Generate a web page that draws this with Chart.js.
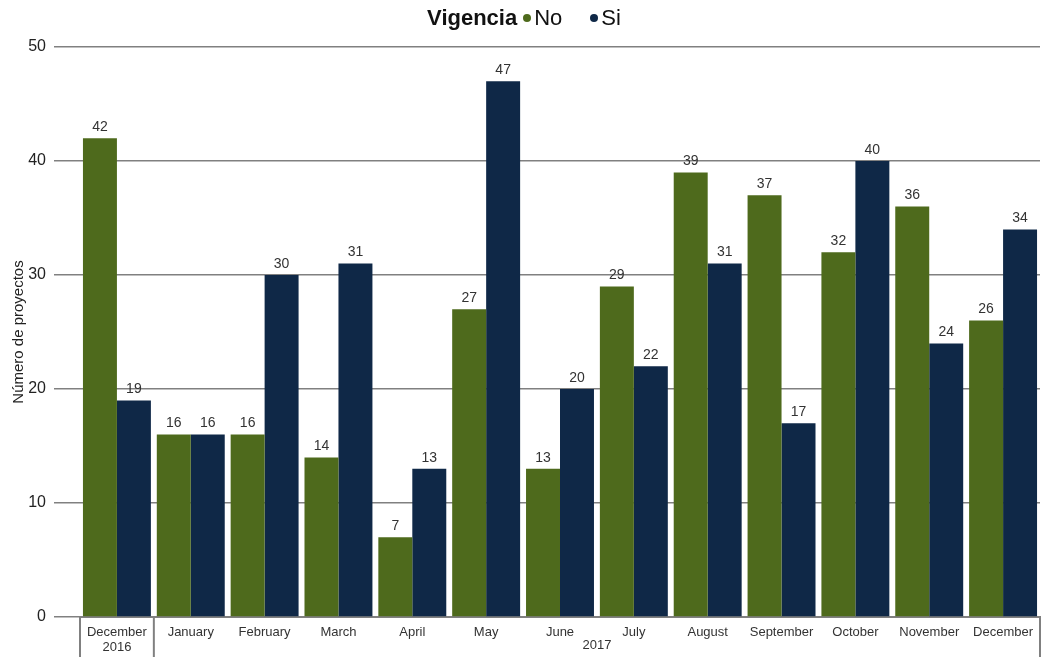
<!DOCTYPE html>
<html>
<head>
<meta charset="utf-8">
<script src="https://cdn.jsdelivr.net/npm/chart.js@4.4.1/dist/chart.umd.min.js"></script>
<style>
  html, body { margin: 0; padding: 0; background: #fff; }
  #wrap { position: relative; width: 1042px; height: 657px; }
  #legend {
    position: absolute; top: 4px; left: 0; width: 1042px; text-align: center;
    font-family: "Liberation Sans", Arial, sans-serif; font-size: 22px; color: #111;
    line-height: 28px; padding-left: 6px; box-sizing: border-box;
  }
  #legend b { margin-right: 6px; }
  #legend .dot { display: inline-block; width: 8px; height: 8px; border-radius: 50%; margin-right: 3px; vertical-align: 3px; }
  #legend .item { margin-right: 28px; }
  #legend .item:last-child { margin-right: 0; }
</style>
</head>
<body>
<div id="wrap">
  <div id="legend"></div>
  <canvas id="myChart" width="1042" height="657"></canvas>
</div>
<script>
const months = ['December', 'January', 'February', 'March', 'April', 'May', 'June',
  'July', 'August', 'September', 'October', 'November', 'December'];
const years = ['2016', '2017'];
const yearSpans = [1, 12]; // how many months fall in each year
const seriesNames = ['No', 'Si'];
const seriesColors = ['#4e6a1c', '#0f2847'];
const noValues = [42, 16, 16, 14, 7, 27, 13, 29, 39, 37, 32, 36, 26];
const siValues = [19, 16, 30, 31, 13, 47, 20, 22, 31, 17, 40, 24, 34];

// legend as html so the title can sit inline with the items
const legend = document.getElementById('legend');
legend.innerHTML = '<b>Vigencia</b>' + seriesNames.map((n, i) =>
  '<span class="item"><span class="dot" style="background:' + seriesColors[i] + '"></span>' + n + '</span>').join('');

// first year gets its label under the month, the rest are drawn centred under their group
const labels = months.map((m, i) => (i === 0 ? [m, years[0]] : m));

const font = '"Liberation Sans", Arial, sans-serif';

const valueLabels = {
  id: 'valueLabels',
  afterDatasetsDraw(chart) {
    const ctx = chart.ctx;
    ctx.save();
    ctx.font = '14px ' + font;
    ctx.fillStyle = '#333';
    ctx.textAlign = 'center';
    ctx.textBaseline = 'bottom';
    chart.data.datasets.forEach((ds, di) => {
      chart.getDatasetMeta(di).data.forEach((bar, i) => {
        ctx.fillText(ds.data[i], bar.x, bar.y - 4);
      });
    });
    ctx.restore();
  }
};

const yearGroups = {
  id: 'yearGroups',
  afterDraw(chart) {
    const ctx = chart.ctx;
    const x = chart.scales.x;
    const top = chart.chartArea.bottom;
    const half = (x.getPixelForValue(1) - x.getPixelForValue(0)) / 2;
    ctx.save();
    ctx.strokeStyle = '#808080';
    ctx.lineWidth = 2;
    let start = 0;
    const edges = [x.getPixelForValue(0) - half];
    yearSpans.forEach(n => {
      start += n;
      edges.push(x.getPixelForValue(start - 1) + half);
    });
    edges.forEach(px => {
      ctx.beginPath();
      ctx.moveTo(px, top);
      ctx.lineTo(px, chart.height);
      ctx.stroke();
    });
    ctx.font = '13px ' + font;
    ctx.fillStyle = '#333';
    ctx.textAlign = 'center';
    ctx.textBaseline = 'middle';
    for (let i = 1; i < years.length; i++) {
      ctx.fillText(years[i], (edges[i] + edges[i + 1]) / 2, top + 28);
    }
    ctx.restore();
  }
};

new Chart(document.getElementById('myChart').getContext('2d'), {
  type: 'bar',
  data: {
    labels: labels,
    datasets: [
      { label: seriesNames[0], data: noValues, backgroundColor: seriesColors[0] },
      { label: seriesNames[1], data: siValues, backgroundColor: seriesColors[1] }
    ]
  },
  options: {
    responsive: false,
    animation: false,
    layout: { padding: { top: 47, right: 2, left: 0, bottom: 0 } },
    datasets: { bar: { categoryPercentage: 0.92, barPercentage: 1 } },
    plugins: {
      legend: { display: false },
      tooltip: { enabled: false }
    },
    scales: {
      x: {
        grid: { display: false },
        border: { display: true, color: '#808080', width: 2 },
        ticks: { color: '#333', font: { family: font, size: 13, lineHeight: 1.15 }, padding: 0, maxRotation: 0, autoSkip: false },
        afterFit(scale) { scale.height = 40; }
      },
      y: {
        min: 0,
        max: 50,
        ticks: { stepSize: 10, color: '#222', font: { family: font, size: 16 }, padding: 8 },
        grid: { color: '#808080', lineWidth: 1.5, tickLength: 26, drawTicks: true },
        border: { display: false },
        title: {
          display: true,
          text: 'Número de proyectos',
          color: '#222',
          font: { family: font, size: 15 },
          padding: { top: 10, bottom: 0 }
        },
        afterFit(scale) { scale.width = 80; }
      }
    }
  },
  plugins: [valueLabels, yearGroups]
});
</script>
</body>
</html>
